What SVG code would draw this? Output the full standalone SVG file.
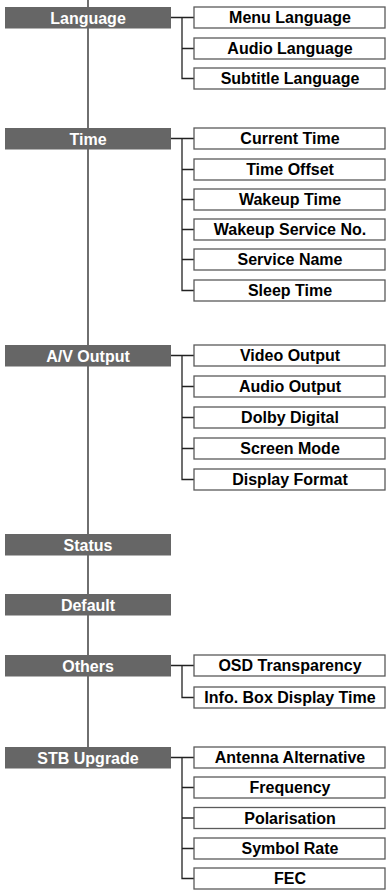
<svg xmlns="http://www.w3.org/2000/svg" width="387" height="890" viewBox="0 0 387 890">
<style>
.bar{fill:#666666}
.bt{font-family:"Liberation Sans",Arial,sans-serif;font-weight:bold;font-size:16px;fill:#ffffff;text-anchor:middle}
.box{fill:#ffffff;stroke:#5a5a5a;stroke-width:1.3}
.tt{font-family:"Liberation Sans",Arial,sans-serif;font-weight:bold;font-size:16px;fill:#000000;text-anchor:middle}
.ln{stroke:#222222;stroke-width:1.3;fill:none}
</style>
<rect width="387" height="890" fill="#ffffff"/>
<g id="connectors">
<line class="ln" x1="88" y1="0" x2="88" y2="747"/>
<path class="ln" d="M171 17.5H194 M182 17.5V78.5H194 M182 48.5H194"/>
<path class="ln" d="M171 138.5H194 M182 138.5V290.5H194 M182 169.5H194 M182 199.5H194 M182 229.5H194 M182 259.5H194"/>
<path class="ln" d="M171 355.5H194 M182 355.5V479.5H194 M182 386.5H194 M182 417.5H194 M182 448.5H194"/>
<path class="ln" d="M171 665.5H194 M182 665.5V697.5H194"/>
<path class="ln" d="M171 757.5H194 M182 757.5V878.5H194 M182 787.5H194 M182 818H194 M182 848.5H194"/>
</g>
<g id="language"><rect class="bar" x="5" y="7" width="166" height="21.5"/><text class="bt" x="88" y="23.5">Language</text></g>
<g id="menu-language"><rect class="box" x="194" y="7" width="191" height="21"/><text class="tt" x="290" y="23">Menu Language</text></g>
<g id="audio-language"><rect class="box" x="194" y="38" width="191" height="21"/><text class="tt" x="290" y="54">Audio Language</text></g>
<g id="subtitle-language"><rect class="box" x="194" y="68" width="191" height="21"/><text class="tt" x="290" y="84">Subtitle Language</text></g>

<g id="time"><rect class="bar" x="5" y="128" width="166" height="21.5"/><text class="bt" x="88" y="144.5">Time</text></g>
<g id="current-time"><rect class="box" x="194" y="128" width="191" height="21"/><text class="tt" x="290" y="144">Current Time</text></g>
<g id="time-offset"><rect class="box" x="194" y="159" width="191" height="21"/><text class="tt" x="290" y="175">Time Offset</text></g>
<g id="wakeup-time"><rect class="box" x="194" y="189" width="191" height="21"/><text class="tt" x="290" y="205">Wakeup Time</text></g>
<g id="wakeup-service"><rect class="box" x="194" y="219" width="191" height="21"/><text class="tt" x="290" y="235">Wakeup Service No.</text></g>
<g id="service-name"><rect class="box" x="194" y="249" width="191" height="21"/><text class="tt" x="290" y="265">Service Name</text></g>
<g id="sleep-time"><rect class="box" x="194" y="280" width="191" height="21"/><text class="tt" x="290" y="296">Sleep Time</text></g>

<g id="av-output"><rect class="bar" x="5" y="345" width="166" height="21.5"/><text class="bt" x="88" y="361.5">A/V Output</text></g>
<g id="video-output"><rect class="box" x="194" y="345" width="191" height="21"/><text class="tt" x="290" y="361">Video Output</text></g>
<g id="audio-output"><rect class="box" x="194" y="376" width="191" height="21"/><text class="tt" x="290" y="392">Audio Output</text></g>
<g id="dolby-digital"><rect class="box" x="194" y="407" width="191" height="21"/><text class="tt" x="290" y="423">Dolby Digital</text></g>
<g id="screen-mode"><rect class="box" x="194" y="438" width="191" height="21"/><text class="tt" x="290" y="454">Screen Mode</text></g>
<g id="display-format"><rect class="box" x="194" y="469" width="191" height="21"/><text class="tt" x="290" y="485">Display Format</text></g>

<g id="status"><rect class="bar" x="5" y="534" width="166" height="21.5"/><text class="bt" x="88" y="550.5">Status</text></g>
<g id="default"><rect class="bar" x="5" y="594" width="166" height="21.5"/><text class="bt" x="88" y="610.5">Default</text></g>

<g id="others"><rect class="bar" x="5" y="655" width="166" height="21.5"/><text class="bt" x="88" y="671.5">Others</text></g>
<g id="osd-transparency"><rect class="box" x="194" y="655" width="191" height="21"/><text class="tt" x="290" y="671">OSD Transparency</text></g>
<g id="info-box"><rect class="box" x="194" y="687" width="191" height="21"/><text class="tt" x="290" y="703">Info. Box Display Time</text></g>

<g id="stb-upgrade"><rect class="bar" x="5" y="747" width="166" height="21.5"/><text class="bt" x="88" y="763.5">STB Upgrade</text></g>
<g id="antenna-alternative"><rect class="box" x="194" y="747" width="191" height="21"/><text class="tt" x="290" y="763">Antenna Alternative</text></g>
<g id="frequency"><rect class="box" x="194" y="777" width="191" height="21"/><text class="tt" x="290" y="793">Frequency</text></g>
<g id="polarisation"><rect class="box" x="194" y="807.5" width="191" height="21"/><text class="tt" x="290" y="823.5">Polarisation</text></g>
<g id="symbol-rate"><rect class="box" x="194" y="838" width="191" height="21"/><text class="tt" x="290" y="854">Symbol Rate</text></g>
<g id="fec"><rect class="box" x="194" y="868" width="191" height="21"/><text class="tt" x="290" y="884">FEC</text></g>
</svg>
